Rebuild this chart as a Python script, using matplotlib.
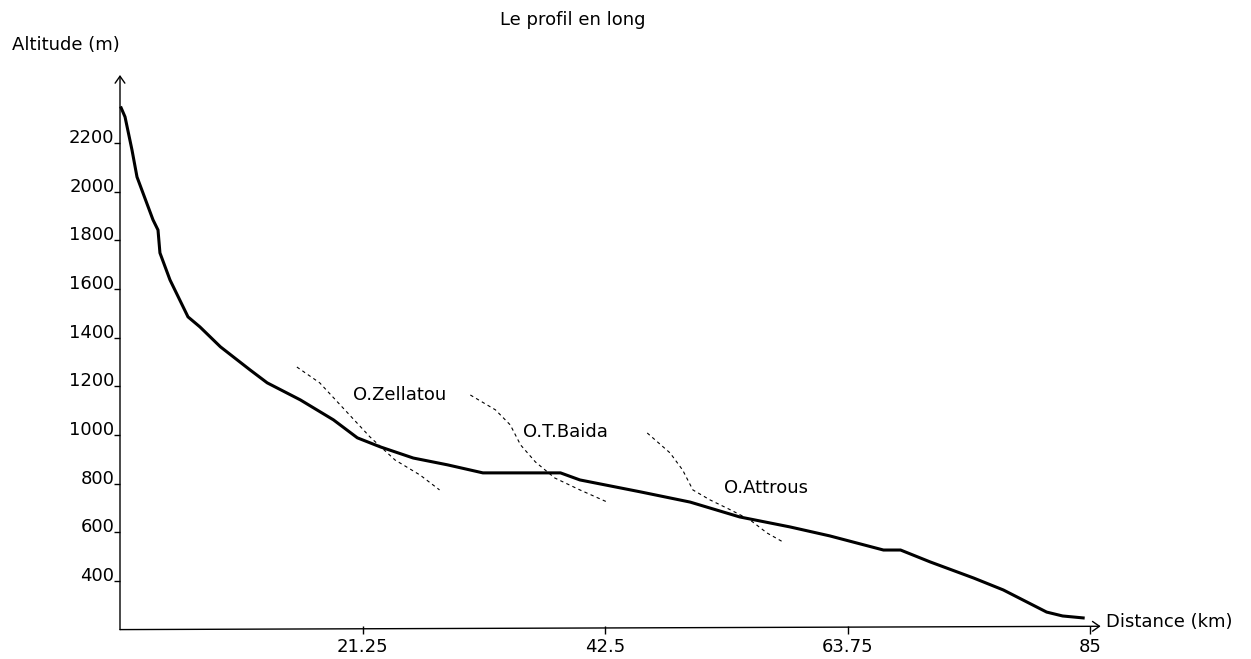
import matplotlib
matplotlib.use("Agg")
import matplotlib.pyplot as plt

# Main river longitudinal profile (distance km, altitude m)
profile_km = [0.1, 0.44, 1.05, 1.49, 2.89, 3.33, 3.5, 4.38, 5.96, 7.0, 8.8, 11.4,
              12.9, 15.8, 18.7, 20.8, 22.8, 25.7, 28.7, 31.8, 38.6, 40.3, 45.6,
              49.96, 54.3, 58.7, 62.2, 66.9, 68.4, 71.0, 74.8, 77.4, 81.2, 82.6, 84.4]
profile_alt = [2344, 2307, 2171, 2060, 1884, 1842, 1748, 1637, 1485, 1444, 1362, 1267,
               1214, 1144, 1062, 988, 951, 905, 877, 844, 844, 815, 766,
               724, 663, 622, 585, 527, 527, 478, 412, 363, 272, 256, 248]

# Tributaries (dashed)
zellatou_km = [15.5, 17.5, 19.7, 21.9, 24.1, 26.3, 28.0]
zellatou_alt = [1279, 1214, 1103, 992, 897, 835, 774]
baida_km = [30.7, 32.9, 34.2, 35.1, 36.4, 38.1, 40.3, 42.7]
baida_alt = [1164, 1103, 1041, 959, 889, 823, 774, 724]
attrous_km = [46.2, 48.2, 49.3, 50.2, 51.7, 53.5, 55.2, 56.7, 58.1]
attrous_alt = [1008, 926, 856, 774, 733, 692, 651, 597, 560]

x_ticks = [21.25, 42.5, 63.75, 85]
x_tick_labels = ["21.25", "42.5", "63.75", "85"]
y_ticks = [400, 600, 800, 1000, 1200, 1400, 1600, 1800, 2000, 2200]

W, H = 1251, 659
fig = plt.figure(figsize=(W / 100, H / 100), dpi=100)
plt.rcParams['font.family'] = ['DejaVu Sans']

def px(x0, y0):
    return x0 / W, 1 - y0 / H

left = 120 / W
width = 970 / W
bottom_px, top_px = 629.6, 75
ax = fig.add_axes([left, (H - bottom_px) / H, width, (bottom_px - top_px) / H])
ax.set_xlim(0, 85)
ax.set_ylim(200, 2479)
for s in ax.spines.values():
    s.set_visible(False)

fs = 13
ax.plot(profile_km, profile_alt, color='black', lw=2.2, solid_joinstyle='miter', clip_on=False)
for xs, ys in [(zellatou_km, zellatou_alt), (baida_km, baida_alt), (attrous_km, attrous_alt)]:
    ax.plot(xs, ys, color='black', lw=0.8, linestyle=(0, (3, 3)))

# axes with arrows
ax.annotate('', xy=(0, 1.0), xytext=(0, 0), xycoords='axes fraction',
            arrowprops=dict(arrowstyle='->,head_length=0.5,head_width=0.35', lw=1.0, color='black',
                            shrinkA=0, shrinkB=0))
ax.annotate('', xy=(1.011, 0.006), xytext=(0, 0), xycoords='axes fraction',
            arrowprops=dict(arrowstyle='->,head_length=0.5,head_width=0.35', lw=1.0, color='black',
                            shrinkA=0, shrinkB=0))

ax.set_xticks(x_ticks)
ax.set_xticklabels(x_tick_labels, fontsize=fs)
ax.set_yticks(y_ticks)
ax.set_yticklabels([str(v) for v in y_ticks], fontsize=fs)
ax.tick_params(axis='x', direction='inout', length=6, width=1, pad=3)
ax.tick_params(axis='y', direction='out', length=4, width=1, pad=0)
for lab in ax.get_yticklabels():
    lab.set_verticalalignment('baseline')

fig.text(*px(573, 20), "Le profil en long", fontsize=fs, ha='center', va='center')
fig.text(*px(12, 45), "Altitude (m)", fontsize=fs, ha='left', va='center')
fig.text(*px(353, 395), "O.Zellatou", fontsize=fs, ha='left', va='center')
fig.text(*px(523, 432), "O.T.Baida", fontsize=fs, ha='left', va='center')
fig.text(*px(724, 488), "O.Attrous", fontsize=fs, ha='left', va='center')
fig.text(*px(1106, 622), "Distance (km)", fontsize=fs, ha='left', va='center')

fig.savefig("out.png", dpi=100)
